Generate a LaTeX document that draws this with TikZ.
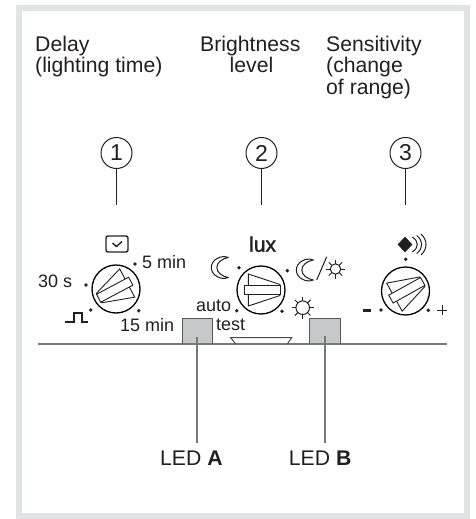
\documentclass[tikz,border=0pt]{standalone}
\usepackage{fontspec}
\setmainfont{Liberation Sans}
\newfontfamily\luxfont[FakeBold=1.6]{Liberation Sans}
\definecolor{frameg}{HTML}{E1E3E5}
\definecolor{ink}{HTML}{231F20}
\definecolor{ledg}{HTML}{C6C8CA}
\definecolor{lineg}{HTML}{77787B}
\tikzset{
  x=1pt,y=-1pt,
  txt/.style={inner sep=0pt,text=ink,font=\fontsize{21.2}{21}\selectfont,anchor=base west},
  small/.style={inner sep=0pt,text=ink,font=\fontsize{18}{18}\selectfont,anchor=base west},
  num/.style={circle,draw=ink,line width=1pt,minimum size=31pt,inner sep=0pt,text=ink,font=\fontsize{23}{23}\selectfont},
  lead/.style={draw=ink,line width=1pt},
  greylead/.style={draw=lineg,line width=1.2pt},
  dial/.style={circle,draw=black,line width=1.3pt,minimum size=48pt,inner sep=0pt},
  pointer/.style={draw=ink,line width=0.9pt},
  tick/.style={circle,fill=ink,minimum size=3.8pt,inner sep=0pt},
  led/.style={draw=ink!75,line width=1pt},
  sym/.style={draw=ink,line width=1pt}
}
\newcommand{\knob}[3]{% name, centre, angle
  \node[dial] (#1) at (#2) {};
  \begin{scope}[shift={(#2)},rotate=#3]
    \draw[pointer] (-12.7,-16) -- (19,-5.5) -- (19,5.5) -- (-12.7,16) -- cycle;
    \draw[pointer,fill=white] (-16.7,-4.5) rectangle (19.7,4.5);
  \end{scope}}
\newcommand{\sunsym}[3]{% centre, body radius, ray radius
  \begin{scope}[shift={(#1)}]
    \draw[sym] (0,0) circle (#2);
    \foreach \a in {0,45,...,315}{\draw[sym] (\a:#2) -- (\a:#3);}
  \end{scope}}
\newcommand{\moonsym}[1]{% top tip
  \begin{scope}[shift={(#1)}]
    \draw[sym,line join=round] (0,0) .. controls (-7,-3) and (-17,2) .. (-17,10)
      .. controls (-17,18) and (-7,23) .. (0,20)
      .. controls (-6,19) and (-11.5,15) .. (-11.5,10)
      .. controls (-11.5,5) and (-6,1) .. (0,0) -- cycle;
  \end{scope}}
\begin{document}
\begin{tikzpicture}
\useasboundingbox (0,0) rectangle (475,519);
\fill[white] (0,0) rectangle (475,519);
\fill[frameg] (16,5) rectangle (470,519);
\fill[white] (22,11) rectangle (464,513);

% headings
\node[txt] (h1a) at (35,51.7) {Delay};
\node[txt] (h1b) at (35,72.7) {(lighting time)};
\node[txt] (h2a) at (200,51.7) {Brightness};
\node[txt] (h2b) at (229.5,72.7) {level};
\node[txt] (h3a) at (326,51.7) {Sensitivity};
\node[txt] (h3b) at (326,72.7) {(change};
\node[txt] (h3c) at (326,94.7) {of range)};

% numbered circles and leads
\node[num] (n1) at (116.5,153) {1};
\node[num] (n2) at (261.5,153) {2};
\node[num] (n3) at (405.5,153) {3};
\coordinate (e1) at (116.5,205);
\coordinate (e2) at (261.5,205);
\coordinate (e3) at (405.5,205);
\draw[lead] (n1) -- (e1);
\draw[lead] (n2) -- (e2);
\draw[lead] (n3) -- (e3);

% base line, LED boxes, lens
\coordinate (bl) at (38,344);
\coordinate (br) at (447.3,344);
\fill[ledg] (182.8,318.8) rectangle (212.2,343.2);
\fill[ledg] (309.8,318.8) rectangle (339.5,343.2);
\draw[greylead,line width=1.5pt] (bl) -- (br);
\draw[led] (182.3,344) |- (212.7,318.3) -- (212.7,344);
\draw[led] (309.3,344) |- (340,318.3) -- (340,344);
\draw[draw=ink!80,line width=1pt] (235.7,344) -- (230.7,337.7) -- (291.7,337.7) -- (287.3,344);

\coordinate (ledAtop) at (197,336.7);
\coordinate (ledBtop) at (325,336);
\node[txt] (la) at (160,465.7) {LED \textbf{A}};
\node[txt] (lb) at (288.7,465.7) {LED \textbf{B}};
\coordinate (ledAend) at (197,443.3);
\coordinate (ledBend) at (325,442.7);
\draw[greylead] (ledAtop) -- (ledAend);
\draw[greylead] (ledBtop) -- (ledBend);

% knobs
\knob{k1}{116,289}{-152}
\knob{k2}{261,290}{0}
\knob{k3}{405.5,291}{29}

% ticks
\foreach \n/\p in {t1/{135,264},t2/{86,285},t3/{90.7,310},t4/{138.7,310.7},
  t5/{239,267.7},t6/{287.3,270.7},t7/{236.7,310.7},t8/{282,311.3},
  t9/{405.7,259.3},t10/{381,310},t11/{428.3,310.3}}
  \node[tick] (\n) at (\p) {};

% knob 1 labels
\node[small] (l5) at (142,268.3) {5 min};
\node[small] (l30) at (38,287.3) {30 s};
\node[small] (l15) at (120,331.7) {15 min};
\draw[draw=ink,line width=1.4pt,rounded corners=2pt] (106,236) rectangle (128,252);
\draw[draw=ink,line width=1.4pt] (112.5,243) -- (116.5,246.5) -- (122,241.5);
\draw[draw=ink,line width=1.8pt] (65,321.7) -- (74,321.7) -- (74,313.3) -- (81.7,313.3) -- (81.7,321.7) -- (88.3,321.7);

% knob 2 labels
\node[txt,font=\fontsize{21}{21}\luxfont] (lx) at (249,251.7) {lux};
\node[small] (au) at (196,311.7) {auto};
\node[small] (te) at (216,330) {test};
\moonsym{228.3,257.5}
\moonsym{313.3,260}
\draw[sym] (316.7,280) -- (326.7,256.7);
\sunsym{335.5,269}{5.2}{9.5}
\sunsym{302.7,307.7}{6.8}{11}

% knob 3 labels
\draw[ink,fill=ink,line join=round] (405,237) -- (412,244.5) -- (405,252) -- (398,244.5) -- cycle;
\foreach \r/\h in {417.3/7.5,421.7/9,426/10.5}
  \draw[sym] (\r-5,244.5-\h) .. controls (\r+1.7,244.5-\h*0.4) and (\r+1.7,244.5+\h*0.4) .. (\r-5,244.5+\h);
\draw[ink,line width=3pt] (363,310) -- (371,310);
\draw[sym] (437.3,310) -- (447.3,310);
\draw[sym] (442.3,305) -- (442.3,315);
\end{tikzpicture}
\end{document}
